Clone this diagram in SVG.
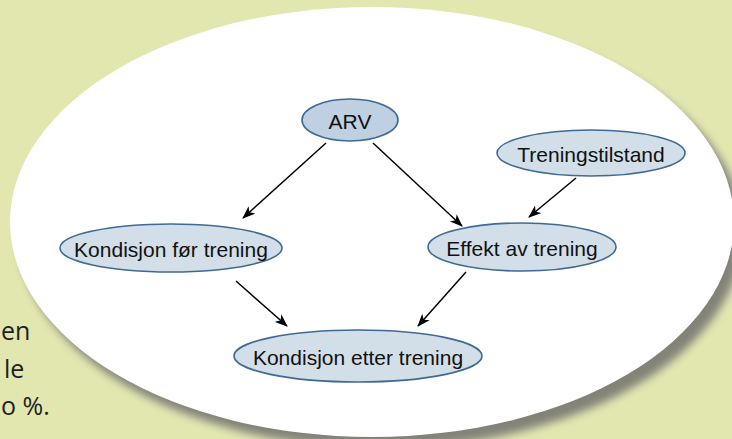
<svg xmlns="http://www.w3.org/2000/svg" width="732" height="439" viewBox="0 0 732 439">
  <defs>
    <style>
      .bg { fill: #e2e7b0; }
      .side { font-family: "Open Sans", "Liberation Sans", sans-serif; font-size: 25px; fill: #231f20; }
      .node ellipse { fill: #d2dee8; stroke: #3e6a93; stroke-width: 1.6; }
      .node text { font-family: "Liberation Sans", Arial, sans-serif; font-size: 21px; fill: #111; text-anchor: middle; dominant-baseline: central; }
      .edge { stroke: #000; stroke-width: 1.5; fill: none; marker-end: url(#arrow); }
    </style>
    <filter id="blur" x="-10%" y="-10%" width="120%" height="120%">
      <feGaussianBlur stdDeviation="4"/>
    </filter>
    <marker id="arrow" viewBox="0 0 13 10" markerWidth="13" markerHeight="10" refX="12" refY="5" orient="auto" markerUnits="userSpaceOnUse">
      <path d="M0,0 L13,5 L0,10 L3.5,5 z" fill="#000"/>
    </marker>
  </defs>

  <rect class="bg" x="0" y="0" width="732" height="439"/>

  <g id="side-text">
    <text class="side" x="1" y="340">en</text>
    <text class="side" x="4" y="378">le</text>
    <text class="side" x="1" y="415">o %.</text>
  </g>

  <g id="backdrop">
    <ellipse cx="381" cy="233" rx="362" ry="215" fill="#787872" opacity="0.9" filter="url(#blur)"/>
    <ellipse cx="372" cy="222" rx="362" ry="215" fill="#ffffff"/>
  </g>

  <g id="connectors">
    <line class="edge" x1="326" y1="143" x2="243" y2="218"/>
    <line class="edge" x1="373" y1="143" x2="462" y2="226"/>
    <line class="edge" x1="576" y1="178" x2="529" y2="217"/>
    <line class="edge" x1="236" y1="281" x2="287" y2="326"/>
    <line class="edge" x1="466" y1="272" x2="418" y2="326"/>
  </g>

  <g id="node-arv" class="node">
    <ellipse cx="350" cy="120" rx="48" ry="21" style="fill:#bed0e1"/>
    <text x="350" y="121">ARV</text>
  </g>
  <g id="node-treningstilstand" class="node">
    <ellipse cx="591" cy="153" rx="94" ry="23"/>
    <text x="591" y="154">Treningstilstand</text>
  </g>
  <g id="node-kondisjon-for" class="node">
    <ellipse cx="171" cy="248" rx="111" ry="24"/>
    <text x="171" y="249">Kondisjon før trening</text>
  </g>
  <g id="node-effekt" class="node">
    <ellipse cx="522" cy="247" rx="94" ry="24"/>
    <text x="522" y="248">Effekt av trening</text>
  </g>
  <g id="node-kondisjon-etter" class="node">
    <ellipse cx="358" cy="356" rx="124" ry="26"/>
    <text x="358" y="357">Kondisjon etter trening</text>
  </g>
</svg>
